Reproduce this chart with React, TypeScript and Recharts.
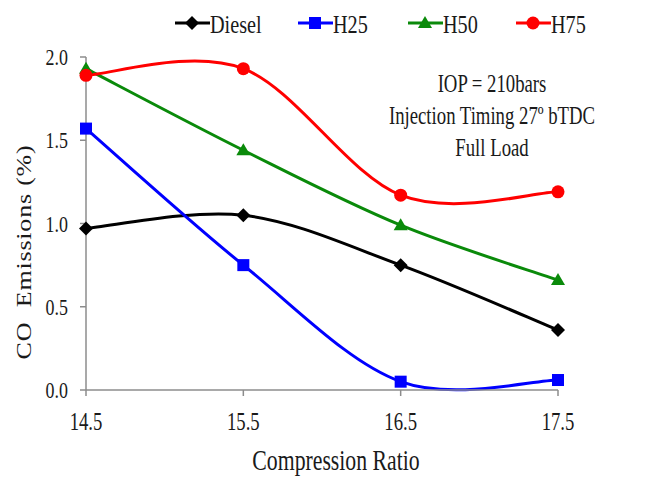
import React from 'react';
import { LineChart, Line, XAxis, YAxis, Customized } from 'recharts';

// compression ratio on x, CO emissions (%) per fuel blend
const ratios = [14.5, 15.5, 16.5, 17.5];
const diesel = [0.97, 1.05, 0.75, 0.36];
const h25 = [1.57, 0.75, 0.05, 0.06];
const h50 = [1.93, 1.44, 0.99, 0.66];
const h75 = [1.89, 1.93, 1.17, 1.19];

const xTicks = [14.5, 15.5, 16.5, 17.5];
const yTicks = [0, 0.5, 1.0, 1.5, 2.0];
const notes = ['IOP = 210bars', 'Injection Timing 27º bTDC', 'Full Load'];

const data = ratios.map((r, i) => ({
  ratio: r,
  Diesel: diesel[i],
  H25: h25[i],
  H50: h50[i],
  H75: h75[i],
}));

const FONT = '"Liberation Serif", "Times New Roman", serif';

// spreadsheet-style smoothed line (Catmull-Rom through every point)
const smoothCurve = (context: any) => {
  let pts: number[][] = [];
  return {
    areaStart() {},
    areaEnd() {},
    lineStart() { pts = []; },
    point(x: number, y: number) { pts.push([+x, +y]); },
    lineEnd() {
      if (!pts.length) return;
      context.moveTo(pts[0][0], pts[0][1]);
      for (let i = 0; i < pts.length - 1; i++) {
        const p0 = pts[i - 1] || pts[i];
        const p1 = pts[i];
        const p2 = pts[i + 1];
        const p3 = pts[i + 2] || pts[i + 1];
        context.bezierCurveTo(
          p1[0] + (p2[0] - p0[0]) / 6, p1[1] + (p2[1] - p0[1]) / 6,
          p2[0] - (p3[0] - p1[0]) / 6, p2[1] - (p3[1] - p1[1]) / 6,
          p2[0], p2[1],
        );
      }
    },
  };
};

// condensed serif text, squeezed horizontally
const NarrowText = ({ x, y, size, squeeze = 0.78, anchor = 'middle', rotate = false, spacing = 0, children }: any) => (
  <text
    transform={`translate(${x},${y}) scale(${squeeze},1)${rotate ? ' rotate(-90)' : ''}`}
    fontFamily={FONT}
    fontSize={size}
    textAnchor={anchor}
    letterSpacing={spacing}
    fill="#1a1a1a"
  >
    {children}
  </text>
);

const Marker = ({ kind, cx, cy, color }: any) => {
  if (cx == null || cy == null) return null;
  if (kind === 'diamond') {
    const r = 7;
    return <polygon points={`${cx},${cy - r} ${cx + r},${cy} ${cx},${cy + r} ${cx - r},${cy}`} fill={color} />;
  }
  if (kind === 'square') {
    return <rect x={cx - 6} y={cy - 6} width={12} height={12} fill={color} />;
  }
  if (kind === 'triangle') {
    return <polygon points={`${cx},${cy - 7} ${cx + 7},${cy + 5} ${cx - 7},${cy + 5}`} fill={color} />;
  }
  return <circle cx={cx} cy={cy} r={6.5} fill={color} />;
};

const series = [
  { key: 'Diesel', color: '#000000', marker: 'diamond' },
  { key: 'H25', color: '#0000ff', marker: 'square' },
  { key: 'H50', color: '#0a8a0a', marker: 'triangle' },
  { key: 'H75', color: '#ff0000', marker: 'circle' },
];

const legendX = [175, 298, 408, 516];

const Extras = () => (
  <g>
    {series.map((s, i) => (
      <g key={s.key}>
        <line x1={legendX[i]} y1={23} x2={legendX[i] + 35} y2={23} stroke={s.color} strokeWidth={3} />
        <Marker kind={s.marker} cx={legendX[i] + 17} cy={23} color={s.color} />
        <NarrowText x={legendX[i] + 35} y={33} size={25} squeeze={0.81} anchor="start">{s.key}</NarrowText>
      </g>
    ))}
    {notes.map((n, i) => (
      <NarrowText key={n} x={492} y={92 + i * 32} size={25} squeeze={0.75}>{n}</NarrowText>
    ))}
    <NarrowText x={336} y={470} size={29} squeeze={0.75}>Compression Ratio</NarrowText>
    <NarrowText x={31} y={252} size={26} squeeze={0.8} spacing={0.8} rotate>{'CO\u00A0 Emissions (%)'}</NarrowText>
  </g>
);

const XTick = ({ x, y, payload }: any) => (
  <NarrowText x={x} y={y + 32} size={26} squeeze={0.72}>{Number(payload.value).toFixed(1)}</NarrowText>
);

const YTick = ({ x, y, payload }: any) => (
  <NarrowText x={x - 10} y={y + 8} size={23} squeeze={0.78} anchor="end">{Number(payload.value).toFixed(1)}</NarrowText>
);

export default function App() {
  return (
    <div style={{ position: 'absolute', left: 0, top: 0, background: '#fff' }}>
      <LineChart width={661} height={477} data={data} margin={{ top: 57, right: 103, bottom: 27, left: 36 }}>
        <XAxis
          dataKey="ratio"
          type="number"
          domain={[14.5, 17.5]}
          ticks={xTicks}
          tick={<XTick />}
          tickSize={6}
          height={60}
          stroke="#8c8c8c"
          strokeWidth={1.5}
        />
        <YAxis
          domain={[0, 2]}
          ticks={yTicks}
          tick={<YTick />}
          tickSize={6}
          width={50}
          stroke="#8c8c8c"
          strokeWidth={1.5}
        />
        {series.map((s) => (
          <Line
            key={s.key}
            dataKey={s.key}
            type={smoothCurve as any}
            stroke={s.color}
            strokeWidth={3}
            dot={(p: any) => <Marker key={`${s.key}-${p.index}`} kind={s.marker} cx={p.cx} cy={p.cy} color={s.color} />}
            activeDot={false}
            isAnimationActive={false}
          />
        ))}
        <Customized component={Extras} />
      </LineChart>
    </div>
  );
}
